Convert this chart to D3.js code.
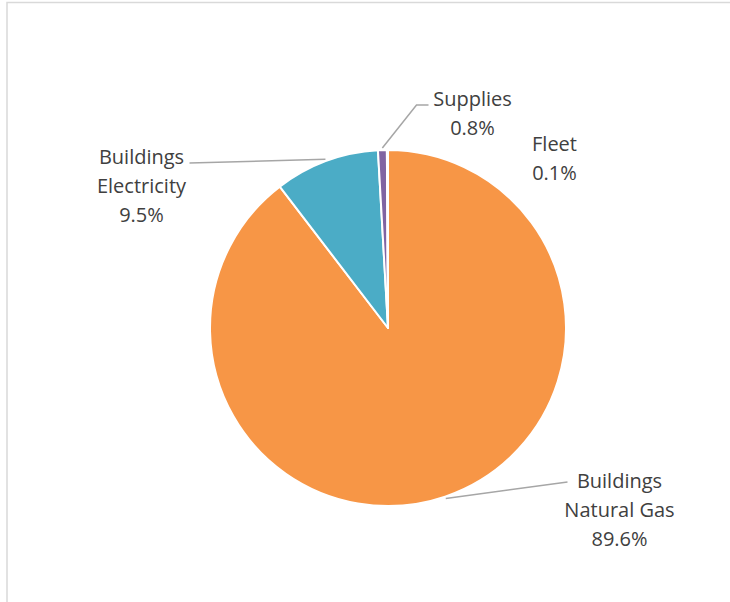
<!DOCTYPE html>
<html>
<head>
<meta charset="utf-8">
<script src="https://cdn.jsdelivr.net/npm/d3@7/dist/d3.min.js"></script>
<style>
  html, body { margin: 0; padding: 0; background: #fff; }
  svg { display: block; }
  text { font-family: "Open Sans", "Noto Sans", sans-serif; font-size: 20px; fill: #404040; }
</style>
</head>
<body>
<svg id="chart" width="730" height="602"></svg>
<script>
// ---- data ----
const categories = ["Buildings Natural Gas", "Buildings Electricity", "Supplies", "Fleet"];
const labelLines = [["Buildings", "Natural Gas"], ["Buildings", "Electricity"], ["Supplies"], ["Fleet"]];
const values = [89.6, 9.5, 0.8, 0.1];
const percentLabels = ["89.6%", "9.5%", "0.8%", "0.1%"];
const colors = ["#F79646", "#4BACC6", "#8064A2", "#C0504D"];

// ---- layout ----
const W = 730, H = 602;
const cx = 388, cy = 328, R = 178;
const lineH = 29;
// label anchor (center x, first baseline) offsets from pie center, and leader style
const labelLayout = [
  { dx: 231.5, dy: 160, leader: "left" },
  { dx: -246.5, dy: -164, leader: "right" },
  { dx: 84.5, dy: -222, leader: "elbow" },
  { dx: 166.5, dy: -177, leader: "none" }
];

const svg = d3.select("#chart");

// chart area border (extends past right/bottom of the view)
svg.append("rect")
  .attr("x", 7).attr("y", 2.5)
  .attr("width", 900).attr("height", 900)
  .attr("fill", "none")
  .attr("stroke", "#D9D9D9")
  .attr("stroke-width", 1.5);

const pie = d3.pie().sort(null).value(d => d)
  .startAngle(0).endAngle(2 * Math.PI);
const arcs = pie(values);
const arc = d3.arc().innerRadius(0).outerRadius(R);
const leaderArc = d3.arc().innerRadius(R + 2).outerRadius(R + 2);

const g = svg.append("g").attr("transform", `translate(${cx},${cy})`);

g.selectAll("path.slice")
  .data(arcs)
  .join("path")
  .attr("class", "slice")
  .attr("d", arc)
  .attr("fill", (d, i) => colors[i])
  .attr("stroke", "#fff")
  .attr("stroke-width", 2)
  .attr("stroke-linejoin", "round");

// leader lines
arcs.forEach((a, i) => {
  const L = labelLayout[i];
  if (L.leader === "none") return;
  const mid = (a.startAngle + a.endAngle) / 2;
  const sx = (R + 2) * Math.sin(mid), sy = -(R + 2) * Math.cos(mid);
  let pts;
  const midLineY = L.dy - 6;
  if (L.leader === "left") {
    pts = [[sx, sy], [L.dx - 52, midLineY]];
  } else if (L.leader === "right") {
    pts = [[sx, sy], [L.dx + 48, midLineY + 5]];
  } else {
    pts = [[sx, sy], [L.dx - 56, L.dy - 1], [L.dx - 44, L.dy - 1]];
  }
  g.append("path")
    .attr("d", d3.line()(pts))
    .attr("fill", "none")
    .attr("stroke", "#A6A6A6")
    .attr("stroke-width", 1.5);
});

// labels
arcs.forEach((a, i) => {
  const L = labelLayout[i];
  const lines = labelLines[i].concat([percentLabels[i]]);
  const t = g.append("text")
    .attr("text-anchor", "middle")
    .attr("x", L.dx).attr("y", L.dy);
  lines.forEach((s, k) => {
    t.append("tspan").attr("x", L.dx).attr("y", L.dy + k * lineH).text(s);
  });
});
</script>
</body>
</html>
